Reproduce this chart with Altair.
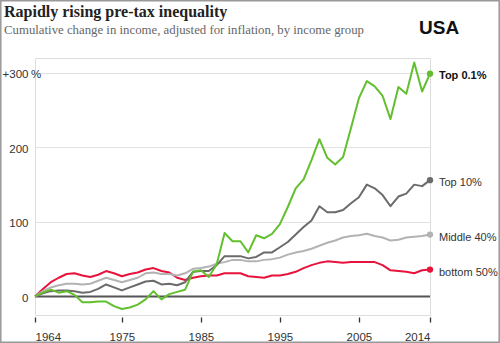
import altair as alt
import pandas as pd

years = list(range(1964, 2015))

top01 = [0, 5, 9, 5, 7, 2, -8, -8, -7, -7, -13, -17, -15, -11, -4, 7, -4, 3, 6, 9,
         33, 35, 26, 43, 85, 74, 74, 59, 82, 78, 84, 97, 120, 145, 157, 183, 211, 186,
         177, 187, 226, 266, 289, 282, 269, 238, 281, 272, 314, 275, 299]
top10 = [0, 4, 7, 8, 8, 7, 5, 6, 10, 16, 12, 8, 12, 16, 20, 21, 16, 17, 15, 19,
         33, 34, 34, 42, 54, 54, 54, 51, 53, 59, 59, 66, 73, 83, 93, 102, 121, 113,
         113, 116, 125, 133, 150, 145, 136, 121, 134, 138, 150, 148, 156]
mid40 = [0, 7, 12, 15, 17, 17, 16, 17, 21, 25, 22, 19, 22, 25, 31, 32, 30, 30, 28, 31,
         37, 38, 40, 44, 46, 49, 49, 47, 47, 49, 50, 52, 56, 59, 61, 64, 68, 72,
         75, 79, 81, 82, 84, 81, 79, 75, 76, 79, 80, 81, 83]
bot50 = [0, 10, 19, 25, 30, 31, 28, 26, 29, 34, 31, 27, 30, 32, 36, 38, 34, 32, 25, 22,
         25, 27, 28, 28, 31, 31, 31, 27, 26, 25, 28, 28, 30, 33, 38, 42, 45, 47,
         46, 45, 46, 46, 46, 46, 42, 35, 34, 33, 31, 35, 36]

series_names = ["bottom 50%", "Middle 40%", "Top 10%", "Top 0.1%"]
series_colors = ["#e8133c", "#b3b3b3", "#6d6a6a", "#62bf2e"]
series_values = [bot50, mid40, top10, top01]

x_ticks = [1964, 1975, 1985, 1995, 2005, 2014]
y_ticks = [0, 100, 200, 300]

title_text = "Rapidly rising pre-tax inequality"
subtitle_text = "Cumulative change in income, adjusted for inflation, by income group"
country_text = "USA"

rows = []
for order, (name, vals) in enumerate(zip(series_names, series_values)):
    for y, v in zip(years, vals):
        rows.append({"year": y, "value": v, "group": name, "order": order})
df = pd.DataFrame(rows)

W, H = 395, 257
xs = alt.Scale(domain=[1964, 2014], nice=False, zero=False)
ys = alt.Scale(domain=[-25, 320], nice=False, zero=False)
cs = alt.Scale(domain=series_names, range=series_colors)

base = alt.Chart(df)

lines = base.mark_line(strokeWidth=2, strokeJoin="round").encode(
    x=alt.X("year:Q", scale=xs,
            axis=alt.Axis(values=x_ticks, format="d", title=None, domain=False,
                          ticks=True, tickSize=5, tickColor="#333", tickWidth=1.3,
                          offset=2, labelPadding=9, labelFontSize=11.5,
                          labelColor="#333", labelFont="Liberation Sans", grid=False)),
    y=alt.Y("value:Q", scale=ys,
            axis=alt.Axis(values=y_ticks, title=None, domain=False, ticks=False,
                          grid=True, gridColor="#e3e3e3", gridWidth=1,
                          labelExpr="datum.value == 300 ? '+300' : datum.label",
                          labelPadding=7, labelFontSize=11.5, labelColor="#333",
                          labelFont="Liberation Sans", labelOffset=2)),
    color=alt.Color("group:N", scale=cs, legend=None),
    order=alt.Order("order:Q"),
    detail="group:N",
)

zero = alt.Chart(pd.DataFrame({"v": [0]})).mark_rule(color="#555", strokeWidth=2).encode(
    y=alt.Y("v:Q", scale=ys))

end = base.transform_filter("datum.year == 2014")
dots = end.mark_circle(size=40, opacity=1).encode(
    x=alt.X("year:Q", scale=xs), y=alt.Y("value:Q", scale=ys),
    color=alt.Color("group:N", scale=cs, legend=None))

lab_bold = end.transform_filter("datum.group == 'Top 0.1%'").mark_text(
    align="left", baseline="middle", dx=9, dy=2, fontSize=11, fontWeight="bold",
    font="Liberation Sans", color="#111").encode(
    x=alt.X("year:Q", scale=xs), y=alt.Y("value:Q", scale=ys), text="group:N")
lab_norm = end.transform_filter("datum.group != 'Top 0.1%'").mark_text(
    align="left", baseline="middle", dx=9, dy=3, fontSize=11,
    font="Liberation Sans", color="#333").encode(
    x=alt.X("year:Q", scale=xs), y=alt.Y("value:Q", scale=ys), text="group:N")

pct = alt.Chart(pd.DataFrame({"v": [300], "t": ["%"]})).mark_text(
    align="left", baseline="middle", dy=2, fontSize=11.5, font="Liberation Sans",
    color="#333").encode(x=alt.value(-4), y=alt.Y("v:Q", scale=ys), text="t:N")

title = alt.Chart(pd.DataFrame({"t": [title_text]})).mark_text(
    align="left", baseline="alphabetic", fontSize=16, fontWeight="bold",
    font="Liberation Serif", color="#222").encode(
    x=alt.value(-31), y=alt.value(-41), text="t:N")
subtitle = alt.Chart(pd.DataFrame({"t": [subtitle_text]})).mark_text(
    align="left", baseline="alphabetic", fontSize=12.8, font="Liberation Serif",
    color="#666").encode(x=alt.value(-31), y=alt.value(-24), text="t:N")
country = alt.Chart(pd.DataFrame({"t": [country_text]})).mark_text(
    align="left", baseline="alphabetic", fontSize=19, fontWeight="bold",
    font="Liberation Sans", color="#111").encode(
    x=alt.value(384), y=alt.value(-24), text="t:N")

frame = alt.Chart(pd.DataFrame({"t": [0]})).mark_rect(
    fill=None, stroke="#999", strokeWidth=1.5).encode(
    x=alt.value(-34.2), x2=alt.value(464.2), y=alt.value(-57.3), y2=alt.value(284.3))

chart = alt.layer(zero, lines, dots, lab_bold, lab_norm, pct, title, subtitle,
                  country, frame).properties(
    width=W, height=H,
    autosize=alt.AutoSizeParams(type="none"),
    padding={"left": 35, "top": 58, "right": 70, "bottom": 28},
).configure_view(stroke=None).configure(background="white")

chart.save("out.html", embed_options={"renderer": "svg", "actions": False})
